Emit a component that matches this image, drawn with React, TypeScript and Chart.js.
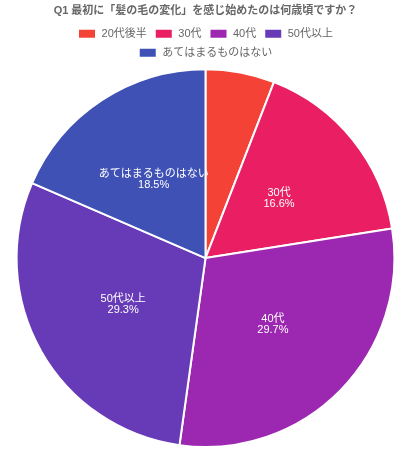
import { useEffect, useRef } from "react"
import { Chart, registerables } from "chart.js"

Chart.register(...registerables)

const titleText = "Q1 最初に「髪の毛の変化」を感じ始めたのは何歳頃ですか？"
const labels = ["20代後半", "30代", "40代", "50代以上", "あてはまるものはない"]
const values = [5.9, 16.6, 29.7, 29.3, 18.5]
const colors = ["#F44336", "#E91E63", "#9C27B0", "#673AB7", "#3F51B5"]

const FONT = "'Liberation Sans', 'Noto Sans CJK JP', sans-serif"

// draws "label\nxx.x%" at mid-radius of each slice
const sliceLabels = {
  id: "sliceLabels",
  afterDatasetsDraw(chart: Chart) {
    const ctx = chart.ctx
    const meta = chart.getDatasetMeta(0)
    const total = values.reduce((a, b) => a + b, 0)
    ctx.save()
    ctx.fillStyle = "#ffffff"
    ctx.font = `11px ${FONT}`
    ctx.textAlign = "center"
    ctx.textBaseline = "middle"
    meta.data.forEach((arc: any, i) => {
      const pct = (values[i] / total) * 100
      if (pct < 10) return
      const { x, y, startAngle, endAngle, outerRadius } = arc.getProps(
        ["x", "y", "startAngle", "endAngle", "outerRadius"],
        true
      )
      const mid = (startAngle + endAngle) / 2
      const r = outerRadius * 0.5
      const cx = x + Math.cos(mid) * r
      const cy = y + Math.sin(mid) * r
      ctx.fillText(labels[i], cx, cy - 5.5)
      ctx.fillText(pct.toFixed(1) + "%", cx, cy + 5.5)
    })
    ctx.restore()
  },
}

export default function App() {
  const canvasRef = useRef<HTMLCanvasElement>(null)
  const chartRef = useRef<Chart | null>(null)

  useEffect(() => {
    document.body.style.margin = "0"
    if (!canvasRef.current) return
    if (chartRef.current) chartRef.current.destroy()
    const ctx = canvasRef.current.getContext("2d")
    if (!ctx) return
    chartRef.current = new Chart(ctx, {
      type: "pie",
      data: {
        labels,
        datasets: [
          {
            data: values,
            backgroundColor: colors,
            borderColor: "#ffffff",
            borderWidth: 2,
          },
        ],
      },
      options: {
        animation: false,
        responsive: true,
        maintainAspectRatio: false,
        layout: { padding: { top: 0, bottom: 2, left: 0, right: 0 } },
        plugins: {
          title: {
            display: true,
            text: titleText,
            color: "#666666",
            font: { family: FONT, size: 11, weight: "bold" },
            padding: { top: 4, bottom: 3 },
          },
          legend: {
            position: "top",
            labels: {
              color: "#666666",
              font: { family: FONT, size: 11 },
              boxWidth: 18,
              boxHeight: 10,
              padding: 8,
            },
          },
          tooltip: { enabled: false },
        },
      },
      plugins: [sliceLabels],
    })
    return () => {
      if (chartRef.current) chartRef.current.destroy()
      chartRef.current = null
    }
  }, [])

  return (
    <div style={{ position: "relative", width: 411, height: 450 }}>
      <canvas ref={canvasRef}></canvas>
    </div>
  )
}
